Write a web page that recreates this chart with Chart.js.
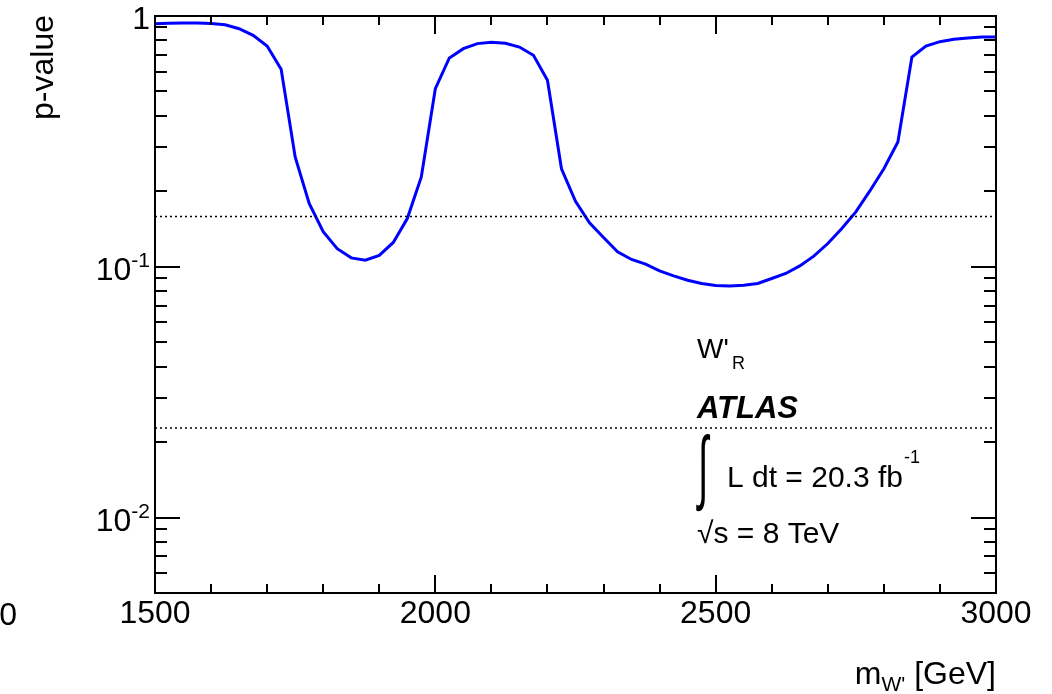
<!DOCTYPE html>
<html>
<head>
<meta charset="utf-8">
<script src="https://cdn.jsdelivr.net/npm/chart.js@4.4.0/dist/chart.umd.min.js"></script>
<style>
html, body { margin: 0; padding: 0; background: #fff; }
#wrap { width: 1052px; height: 694px; position: relative; }
</style>
</head>
<body>
<div id="wrap"><canvas id="pvalueChart"></canvas></div>
<script>
// W'_R local p-value scan
var masses = [1500, 1525, 1550, 1575, 1600, 1625, 1650, 1675, 1700, 1725,
    1750, 1775, 1800, 1825, 1850, 1875, 1900, 1925, 1950, 1975,
    2000, 2025, 2050, 2075, 2100, 2125, 2150, 2175, 2200, 2225,
    2250, 2275, 2300, 2325, 2350, 2375, 2400, 2425, 2450, 2475,
    2500, 2525, 2550, 2575, 2600, 2625, 2650, 2675, 2700, 2725,
    2750, 2775, 2800, 2825, 2850, 2875, 2900, 2925, 2950, 2975, 3000];
var pValues = [0.932, 0.935, 0.937, 0.937, 0.934, 0.923, 0.890, 0.837, 0.759, 0.613,
    0.274, 0.179, 0.138, 0.118, 0.1085, 0.1062, 0.111, 0.125, 0.1557, 0.228,
    0.513, 0.680, 0.741, 0.776, 0.785, 0.778, 0.752, 0.697, 0.554, 0.246,
    0.1825, 0.1496, 0.1308, 0.1147, 0.1069, 0.1024, 0.0963, 0.0920, 0.0884, 0.0858,
    0.0842, 0.0839, 0.0844, 0.0858, 0.0898, 0.0940, 0.1008, 0.1102, 0.1238, 0.1421,
    0.1655, 0.2006, 0.246, 0.3146, 0.686, 0.759, 0.790, 0.807, 0.817, 0.824, 0.824];

// 1 sigma and 2 sigma lines
var sigmaLevels = [0.1587, 0.02275];

var xMin = 1500, xMax = 3000, xMajorStep = 500, xMinorStep = 100;
var yMin = 0.005, yMax = 1;
var yDecades = [1, 0.1, 0.01];
var yLabelBase = ['1', '10', '10'];
var yLabelExp = ['', '-1', '-2'];

var FONT = '"Liberation Sans", Arial, Helvetica, sans-serif';

function font(size, style) {
    return (style ? style + ' ' : '') + size + 'px ' + FONT;
}

var rootFrame = {
    id: 'rootFrame',
    beforeDraw: function (chart) {
        var ctx = chart.ctx;
        ctx.save();
        ctx.fillStyle = '#fff';
        ctx.fillRect(0, 0, chart.width, chart.height);
        ctx.restore();
    },
    afterDraw: function (chart) {
        var ctx = chart.ctx;
        var area = chart.chartArea;
        var xs = chart.scales.x, ys = chart.scales.y;
        ctx.save();
        ctx.strokeStyle = '#000';
        ctx.fillStyle = '#000';
        ctx.lineWidth = 2;
        ctx.strokeRect(area.left, area.top, area.right - area.left, area.bottom - area.top);

        // ticks pointing inwards, on all four sides
        ctx.beginPath();
        for (var v = xMin; v <= xMax; v += xMinorStep) {
            var px = Math.round(xs.getPixelForValue(v));
            var len = (v - xMin) % xMajorStep === 0 ? 18 : 9;
            ctx.moveTo(px, area.bottom); ctx.lineTo(px, area.bottom - len);
            ctx.moveTo(px, area.top); ctx.lineTo(px, area.top + len);
        }
        [0.001, 0.01, 0.1].forEach(function (d) {
            for (var m = 1; m <= 9; m++) {
                var val = m * d;
                if (val < yMin * 0.999 || val > yMax * 1.001) continue;
                var py = Math.round(ys.getPixelForValue(val));
                var l = m === 1 ? 25 : 12;
                ctx.moveTo(area.left, py); ctx.lineTo(area.left + l, py);
                ctx.moveTo(area.right, py); ctx.lineTo(area.right - l, py);
            }
        });
        ctx.stroke();

        // y tick labels with exponents
        ctx.textBaseline = 'alphabetic';
        yDecades.forEach(function (d, i) {
            var py = ys.getPixelForValue(d);
            var right = 150;
            ctx.font = font(21);
            var ew = yLabelExp[i] ? ctx.measureText(yLabelExp[i]).width : 0;
            if (yLabelExp[i]) {
                ctx.textAlign = 'right';
                ctx.fillText(yLabelExp[i], right, py);
            }
            ctx.font = font(32);
            ctx.textAlign = 'right';
            ctx.fillText(yLabelBase[i], right - ew, py + 13);
        });

        // cut-off label on the far left
        ctx.font = font(32);
        ctx.textAlign = 'right';
        ctx.fillText('0', 17, 625);

        // y title
        ctx.save();
        ctx.translate(53, 15);
        ctx.rotate(-Math.PI / 2);
        ctx.font = font(32);
        ctx.textAlign = 'right';
        ctx.fillText('p-value', 0, 0);
        ctx.restore();

        // x title m_W' [GeV]
        ctx.textAlign = 'left';
        ctx.font = font(32);
        var wm = ctx.measureText('m').width;
        var wRest = ctx.measureText(' [GeV]').width;
        ctx.font = font(21);
        var wSub = ctx.measureText("W'").width;
        var x0 = area.right - wm - wSub - wRest;
        ctx.font = font(32);
        ctx.fillText('m', x0, 684);
        ctx.font = font(21);
        ctx.fillText("W'", x0 + wm, 691);
        ctx.font = font(32);
        ctx.fillText(' [GeV]', x0 + wm + wSub, 684);

        // labels inside the frame
        ctx.font = font(28);
        ctx.fillText("W'", 697, 358);
        ctx.font = font(18);
        ctx.fillText('R', 732, 369);

        ctx.font = font(31, 'italic bold');
        ctx.fillText('ATLAS', 697, 418);

        // tall thin integral sign
        ctx.save();
        ctx.translate(698, 494);
        ctx.scale(0.55, 1.2);
        ctx.font = '68px "Liberation Sans", sans-serif';
        ctx.fillText('\u222B', 0, 0);
        ctx.restore();

        ctx.font = font(30);
        ctx.fillText('L dt = 20.3 fb', 727, 487);
        var lw = ctx.measureText('L dt = 20.3 fb').width;
        ctx.font = font(18);
        ctx.fillText('-1', 727 + lw + 1, 463);

        ctx.font = font(30);
        ctx.fillText('\u221As = 8 TeV', 697, 543);

        ctx.restore();
    }
};

var curve = masses.map(function (m, i) { return { x: m, y: pValues[i] }; });
var datasets = sigmaLevels.map(function (lvl) {
    return {
        data: [{ x: xMin, y: lvl }, { x: xMax, y: lvl }],
        borderColor: '#000',
        borderWidth: 1.5,
        borderDash: [2, 3],
        pointRadius: 0,
        fill: false
    };
});
datasets.push({
    data: curve,
    borderColor: '#0000ff',
    borderWidth: 3,
    pointRadius: 0,
    tension: 0,
    fill: false
});

var chart = new Chart(document.getElementById('pvalueChart'), {
    type: 'line',
    data: { datasets: datasets },
    plugins: [rootFrame],
    options: {
        responsive: true,
        maintainAspectRatio: false,
        animation: false,
        layout: { padding: { left: 0, top: 16, right: 56, bottom: 0 } },
        plugins: {
            legend: { display: false },
            tooltip: { enabled: false }
        },
        scales: {
            x: {
                type: 'linear',
                min: xMin,
                max: xMax,
                grid: { display: false, drawTicks: false },
                border: { display: false },
                ticks: {
                    stepSize: xMajorStep,
                    autoSkip: false,
                    maxRotation: 0,
                    padding: 2,
                    color: '#000',
                    font: { family: FONT, size: 32 },
                    callback: function (value) { return String(value); }
                },
                afterFit: function (scale) { scale.height = 101; }
            },
            y: {
                type: 'logarithmic',
                min: yMin,
                max: yMax,
                grid: { display: false, drawTicks: false },
                border: { display: false },
                ticks: { display: false },
                afterFit: function (scale) { scale.width = 155; }
            }
        }
    }
});
</script>
</body>
</html>
